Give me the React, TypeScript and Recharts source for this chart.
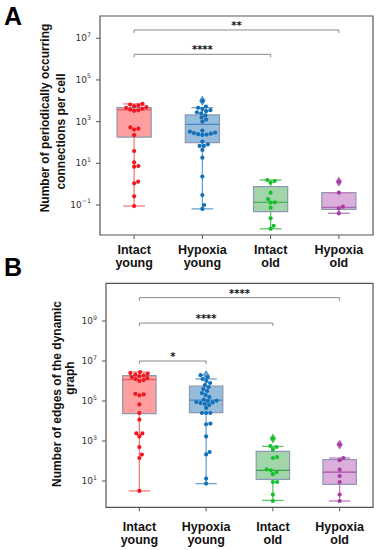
import React from 'react';
import { ComposedChart, XAxis, YAxis, Scatter, ReferenceArea, ReferenceLine } from 'recharts';

// category labels (two lines each)
const groupTop = ['Intact', 'Hypoxia', 'Intact', 'Hypoxia'];
const groupBottom = ['young', 'young', 'old', 'old'];

// Panel A: number of periodically occurring connections per cell
const aIntactYoung = [7100, 6600, 6000, 5500, 5000, 4600, 4200, 3800, 3500, 3300, 525, 457, 417, 224, 39, 11.2, 7.4, 6.9, 1.32, 1.1, 0.26, 0.089];
const aHypoxiaYoung = [10000, 5250, 4570, 3980, 3550, 3160, 2820, 2510, 2000, 1580, 1260, 1000, 370, 330, 295, 263, 240, 229, 251, 282, 110, 81, 68, 68, 44, 18.6, 2.3, 0.3, 0.1, 0.065];
const aIntactOld = [1.58, 1.41, 1.17, 0.39, 0.19, 0.135, 0.13, 0.074, 0.023, 0.01, 0.0072];
const aHypoxiaOld = [1.32, 0.39, 0.083, 0.069, 0.04];

const aWhiskerLow = [0.089, 0.065, 0.0072, 0.04];
const aQ1 = [182, 98, 0.048, 0.062];
const aMedian = [3630, 741, 0.135, 0.078];
const aQ3 = [4680, 2090, 0.76, 0.39];
const aWhiskerHigh = [7080, 4680, 1.58, 0.39];
const aFliers = [[], [10000], [], [1.32]];

const aYTicks = [1e-1, 1e1, 1e3, 1e5, 1e7];
const aDomain = [0.00363, 1.17e8];
const aBrackets = [
  { from: 0, to: 3, y: 2.5e7, stars: '**' },
  { from: 0, to: 2, y: 1.7e6, stars: '****' },
];

// Panel B: number of edges of the dynamic graph
const bIntactYoung = [2.8e6, 2.5e6, 2.3e6, 2.1e6, 1.9e6, 1.74e6, 1.58e6, 1.41e6, 1.26e6, 1.12e6, 1.0e6, 229000, 214000, 191000, 67600, 25100, 11700, 2400, 2400, 1700, 500, 209, 141, 3.2];
const bHypoxiaYoung = [1.95e6, 1.58e6, 1.26e6, 1.0e6, 794000, 631000, 501000, 398000, 316000, 251000, 200000, 158000, 117000, 105000, 89000, 79000, 63000, 71000, 85000, 100000, 25100, 25100, 25100, 44700, 6900, 7400, 1700, 282, 214, 13.2, 7.4];
const bIntactOld = [1320, 562, 501, 380, 158, 141, 38, 34, 28, 22, 8.9, 8.9, 2.1, 1.0];
const bHypoxiaOld = [661, 141, 110, 37, 17.8, 8.9, 2.1, 1.0];

const bWhiskerLow = [3.2, 7.4, 1.07, 1.0];
const bQ1 = [23400, 26300, 12, 6.8];
const bMedian = [1.17e6, 112000, 34, 28];
const bQ3 = [1.86e6, 562000, 302, 117];
const bWhiskerHigh = [2.8e6, 1.26e6, 537, 141];
const bFliers = [[], [1.95e6], [1320], [661]];

const bYTicks = [1e1, 1e3, 1e5, 1e7, 1e9];
const bDomain = [0.484, 7.7e10];
const bBrackets = [
  { from: 0, to: 3, y: 1.48e10, stars: '****' },
  { from: 0, to: 2, y: 7.9e8, stars: '****' },
  { from: 0, to: 1, y: 1.0e7, stars: '*' },
];

// styles
const pointColors = ['#f01820', '#1170b8', '#16c02a', '#a83aa8'];
const boxFills = ['#ff9e9e', '#96bcdc', '#a2d6aa', '#dcaedc'];
const lineColors = ['#f27c7c', '#6aa3d2', '#5cc26a', '#c07cc0'];
const medianColors = ['#e65a5a', '#4a86c0', '#3aa24a', '#a650a6'];
const boxEdge = '#8e98b2';
const frameColor = '#555';
const BOX_HALF = 0.25;
const CAP_HALF = 0.16;
const R = 2.1;

// simple beeswarm: place points (sorted by value) at the nearest free spot to the centre
function swarm(values: number[], pxPerDecade: number, bandPx: number): number[] {
  const d = 2 * R;
  const ys = values.map((v) => Math.log10(v) * pxPerDecade);
  const order = ys.map((_, i) => i).sort((a, b) => ys[a] - ys[b]);
  const placed: { x: number; y: number }[] = [];
  const out = new Array(values.length).fill(0);
  for (const i of order) {
    const y = ys[i];
    let chosen = 0;
    for (let k = 0; k < 400; k++) {
      const cand = k === 0 ? 0 : (k % 2 ? 1 : -1) * Math.ceil(k / 2) * 0.25;
      if (placed.every((p) => (p.x - cand) ** 2 + (p.y - y) ** 2 >= d * d - 0.01)) {
        chosen = cand;
        break;
      }
    }
    placed.push({ x: chosen, y });
    out[i] = chosen / bandPx;
  }
  return out;
}

function PowerTick(props: any) {
  const { x, y, payload } = props;
  const e = Math.round(Math.log10(payload.value));
  return (
    <text x={x} y={y} dy={3} textAnchor="end" fill="#333" fontSize={9} fontFamily="DejaVu Sans, sans-serif">
      <tspan>10</tspan>
      <tspan dy={-4.5} fontSize={6.3}>{e < 0 ? '\u2212' + -e : String(e)}</tspan>
    </text>
  );
}

function GroupTick(props: any) {
  const { x, y, payload, dy1 } = props;
  const i = Math.round(payload.value);
  return (
    <text x={x} y={y} textAnchor="middle" fill="#111" fontSize={12.5} fontWeight="bold" fontFamily="Liberation Sans, Arial, sans-serif">
      <tspan x={x} dy={dy1}>{groupTop[i]}</tspan>
      <tspan x={x} dy={13}>{groupBottom[i]}</tspan>
    </text>
  );
}

function Panel(props: any) {
  const { groups, low, q1, med, q3, high, fliers, brackets, domain, ticks, px, band, height, margin, dy1 } = props;
  const drop = Math.pow(10, -3 / px);
  const refs: any[] = [];

  refs.push(
    <ReferenceArea key="frame" x1={-0.5} x2={3.5} y1={domain[0]} y2={domain[1]} fill="none" stroke={frameColor} strokeWidth={1.2} />
  );

  groups.forEach((_: number[], g: number) => {
    refs.push(
      <ReferenceLine key={`wu${g}`} segment={[{ x: g, y: q3[g] }, { x: g, y: high[g] }]} stroke={lineColors[g]} strokeWidth={1.3} />,
      <ReferenceLine key={`wl${g}`} segment={[{ x: g, y: low[g] }, { x: g, y: q1[g] }]} stroke={lineColors[g]} strokeWidth={1.3} />,
      <ReferenceLine key={`cu${g}`} segment={[{ x: g - CAP_HALF, y: high[g] }, { x: g + CAP_HALF, y: high[g] }]} stroke={lineColors[g]} strokeWidth={1.3} />,
      <ReferenceLine key={`cl${g}`} segment={[{ x: g - CAP_HALF, y: low[g] }, { x: g + CAP_HALF, y: low[g] }]} stroke={lineColors[g]} strokeWidth={1.3} />,
      <ReferenceArea key={`box${g}`} x1={g - BOX_HALF} x2={g + BOX_HALF} y1={q1[g]} y2={q3[g]} fill={boxFills[g]} fillOpacity={1} stroke={boxEdge} strokeWidth={1.2} />,
      <ReferenceLine key={`md${g}`} segment={[{ x: g - BOX_HALF, y: med[g] }, { x: g + BOX_HALF, y: med[g] }]} stroke={medianColors[g]} strokeWidth={1.2} />
    );
  });

  brackets.forEach((b: any, j: number) => {
    refs.push(
      <ReferenceLine key={`bh${j}`} segment={[{ x: b.from, y: b.y }, { x: b.to, y: b.y }]} stroke="#8a8a8a" strokeWidth={1}
        label={{ value: b.stars, position: 'top', offset: 1, fontSize: 10, fontWeight: 'bold', fill: '#111', fontFamily: 'DejaVu Sans, sans-serif' }} />,
      <ReferenceLine key={`bl${j}`} segment={[{ x: b.from, y: b.y }, { x: b.from, y: b.y * drop }]} stroke="#8a8a8a" strokeWidth={1} />,
      <ReferenceLine key={`br${j}`} segment={[{ x: b.to, y: b.y }, { x: b.to, y: b.y * drop }]} stroke="#8a8a8a" strokeWidth={1} />
    );
  });

  const series: any[] = [];
  groups.forEach((vals: number[], g: number) => {
    const offs = swarm(vals, px, band);
    const data = vals.map((v, i) => ({ x: g + offs[i], y: v }));
    series.push(
      <Scatter key={`fl${g}`} data={fliers[g].map((v: number) => ({ x: g, y: v }))} isAnimationActive={false}
        shape={(p: any) => (
          <path d={`M${p.cx},${p.cy - 4.5}L${p.cx + 2.8},${p.cy}L${p.cx},${p.cy + 4.5}L${p.cx - 2.8},${p.cy}Z`} fill={lineColors[g]} stroke={pointColors[g]} strokeWidth={0.6} />
        )} />,
      <Scatter key={`pt${g}`} data={data} isAnimationActive={false}
        shape={(p: any) => <circle cx={p.cx} cy={p.cy} r={R} fill={pointColors[g]} />} />
    );
  });

  return (
    <ComposedChart width={379} height={height} margin={margin}>
      <XAxis type="number" dataKey="x" domain={[-0.5, 3.5]} ticks={[0, 1, 2, 3]} allowDataOverflow
        axisLine={false} tickLine={{ stroke: frameColor }} tickSize={4} tickMargin={2} height={30}
        tick={(p: any) => <GroupTick {...p} dy1={dy1} />} interval={0} />
      <YAxis type="number" dataKey="y" scale="log" domain={domain} ticks={ticks} allowDataOverflow
        axisLine={false} tickLine={{ stroke: frameColor }} tickSize={4} tickMargin={5} width={60}
        tick={(p: any) => <PowerTick {...p} />} interval={0} />
      {refs}
      {series}
    </ComposedChart>
  );
}

export default function App() {
  const labelFont = 'Liberation Sans, Arial, sans-serif';
  return (
    <div style={{ position: 'absolute', left: 0, top: 0, width: 379, height: 550, background: '#fff' }}>
      <div style={{ position: 'absolute', left: 0, top: 0 }}>
        <Panel
          groups={[aIntactYoung, aHypoxiaYoung, aIntactOld, aHypoxiaOld]}
          low={aWhiskerLow} q1={aQ1} med={aMedian} q3={aQ3} high={aWhiskerHigh} fliers={aFliers}
          brackets={aBrackets} domain={aDomain} ticks={aYTicks}
          px={20.84} band={68.25} height={270}
          margin={{ top: 16, right: 6, bottom: 5, left: 40 }} dy1={13}
        />
      </div>
      <div style={{ position: 'absolute', left: 0, top: 270 }}>
        <Panel
          groups={[bIntactYoung, bHypoxiaYoung, bIntactOld, bHypoxiaOld]}
          low={bWhiskerLow} q1={bQ1} med={bMedian} q3={bQ3} high={bWhiskerHigh} fliers={bFliers}
          brackets={bBrackets} domain={bDomain} ticks={bYTicks}
          px={20} band={66.75} height={280}
          margin={{ top: 13.3, right: 6, bottom: 12.7, left: 46 }} dy1={17.5}
        />
      </div>
      <svg width={379} height={550} style={{ position: 'absolute', left: 0, top: 0, pointerEvents: 'none' }}>
        <text x={4} y={25} fontSize={25} fontWeight="bold" fontFamily={labelFont} fill="#000">A</text>
        <text x={4} y={276} fontSize={25} fontWeight="bold" fontFamily={labelFont} fill="#000">B</text>
        <g fontSize={12} fontWeight="bold" fontFamily={labelFont} fill="#111" textAnchor="middle">
          <text transform="translate(48.5,118) rotate(-90)">Number of periodically occurring</text>
          <text transform="translate(65,131.5) rotate(-90)">connections per cell</text>
          <text transform="translate(60.5,394) rotate(-90)">Number of edges of the dynamic</text>
          <text transform="translate(73.5,378) rotate(-90)">graph</text>
        </g>
      </svg>
    </div>
  );
}
